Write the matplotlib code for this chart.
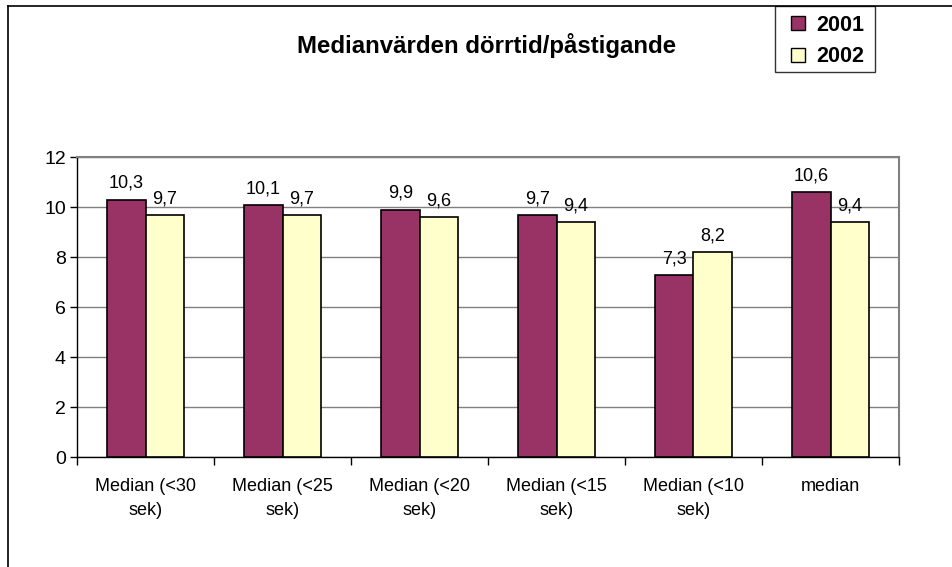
import numpy as np
from matplotlib import pyplot as plt
from matplotlib.lines import Line2D
from matplotlib.patches import Rectangle

plt.rcParams['font.family'] = ['Liberation Sans', 'DejaVu Sans']

categories = ['Median (<30\nsek)', 'Median (<25\nsek)', 'Median (<20\nsek)',
              'Median (<15\nsek)', 'Median (<10\nsek)', 'median']
v2001 = [10.3, 10.1, 9.9, 9.7, 7.3, 10.6]
v2002 = [9.7, 9.7, 9.6, 9.4, 8.2, 9.4]
series = ['2001', '2002']
colors = ['#993366', '#FFFFCC']


def fmt(v):
    return ('%.1f' % v).replace('.', ',')


fig = plt.figure(figsize=(9.52, 5.67), dpi=100)
W, H = 952, 567
ax = fig.add_axes([77 / W, 1 - 457 / H, (899 - 77) / W, (457 - 157) / H])

x = np.arange(len(categories))
w = 0.28
b1 = ax.bar(x - w / 2, v2001, w, color=colors[0], edgecolor='black', linewidth=1.2, zorder=3)
b2 = ax.bar(x + w / 2, v2002, w, color=colors[1], edgecolor='black', linewidth=1.2, zorder=3)

for bars, vals in ((b1, v2001), (b2, v2002)):
    for r, v in zip(bars, vals):
        ax.text(r.get_x() + r.get_width() / 2, v + 0.3, fmt(v), ha='center', va='bottom',
                fontsize=13)

ax.set_xlim(-0.5, len(categories) - 0.5)
ax.set_ylim(0, 12)
ax.set_yticks(range(0, 13, 2))
ax.yaxis.grid(True, color='#808080', linewidth=1, zorder=0)
ax.set_axisbelow(True)

ax.set_xticks(np.arange(-0.5, len(categories), 1))
ax.set_xticklabels([])
ax.set_xticks(x, minor=True)
ax.set_xticklabels(categories, minor=True, fontsize=13, linespacing=1.55)
ax.tick_params(axis='x', which='minor', length=0, pad=15)
ax.tick_params(axis='x', which='major', length=6, width=1, color='black')
ax.tick_params(axis='y', length=5, width=1, labelsize=14, pad=3)

for s in ('left', 'bottom'):
    ax.spines[s].set_color('black')
    ax.spines[s].set_linewidth(1)
for s in ('top', 'right'):
    ax.spines[s].set_color('#808080')
    ax.spines[s].set_linewidth(1.5)

fig.text(487 / W, 1 - 45 / H, 'Medianvärden dörrtid/påstigande', ha='center', va='center',
         fontsize=17.3, fontweight='bold')

# outer chart border (left and top only visible)
fig.add_artist(Line2D([8 / W, 8 / W], [0, 1 - 6 / H], color='black', linewidth=1.2))
fig.add_artist(Line2D([8 / W, 1], [1 - 6 / H, 1 - 6 / H], color='black', linewidth=1.2))

# legend box
fig.add_artist(Rectangle((775 / W, 1 - 72 / H), 100 / W, 66 / H, transform=fig.transFigure,
                         fill=False, edgecolor='#333333', linewidth=1))
handles = [Line2D([], [], linestyle='none', marker='s', markersize=10, markerfacecolor=c,
                  markeredgecolor='black', markeredgewidth=1) for c in colors]
leg = fig.legend(handles, series, loc='upper left', bbox_to_anchor=(776 / W, 1 - 6 / H),
                 frameon=False, handlelength=1.25, handletextpad=0.2, borderpad=0.4,
                 labelspacing=0.5, borderaxespad=0, prop={'weight': 'bold', 'size': 15.5})

fig.savefig('out.png', dpi=100)
